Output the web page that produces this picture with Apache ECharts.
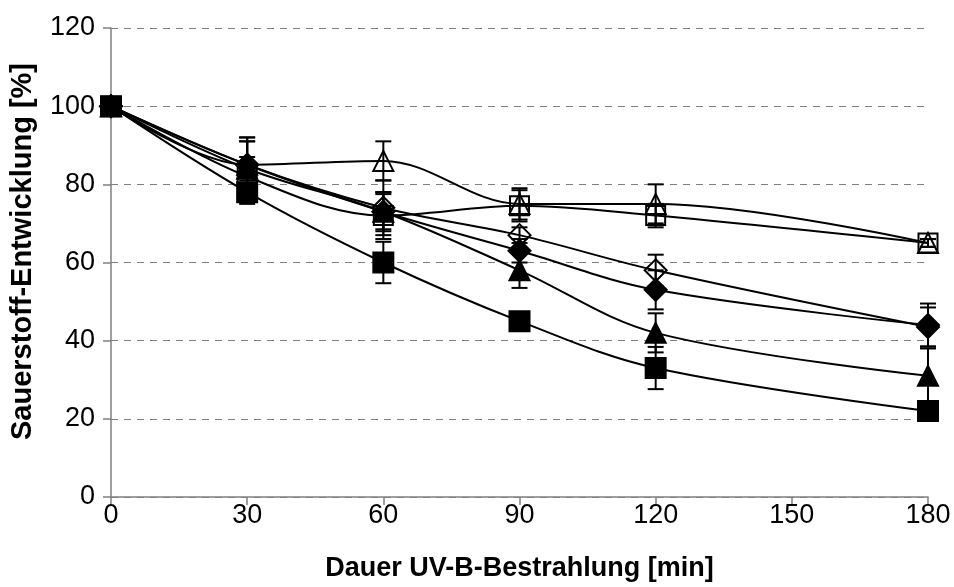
<!DOCTYPE html>
<html>
<head>
<meta charset="utf-8">
<script src="https://cdn.jsdelivr.net/npm/echarts@6/dist/echarts.min.js"></script>
<style>html,body{margin:0;padding:0;background:#fff}#c{width:954px;height:587px}</style>
</head>
<body>
<div id="c"></div>
<script>
var xValues = [0, 30, 60, 90, 120, 180];
var xTicks = [0, 30, 60, 90, 120, 150, 180];
var yTicks = [0, 20, 40, 60, 80, 100, 120];

var openTriangle = [100, 85, 86, 75, 75, 65];
var openTriangleErr = [0, 7, 5, 4, 5, 1];
var openSquare = [100, 82, 72, 74.5, 72, 65];
var openSquareErr = [0, 5, 6, 4, 3, 1];
var openDiamond = [100, 85, 74, 67, 58, 43.5];
var openDiamondErr = [0, 6, 7, 2, 4, 5];
var filledDiamond = [100, 85, 73, 63, 53, 44];
var filledDiamondErr = [0, 7, 5, 3, 5, 5.5];
var filledTriangle = [100, 84, 73, 58, 42, 31];
var filledTriangleErr = [0, 7, 4.5, 4.5, 5, 7];
var filledSquare = [100, 78, 60, 45, 33, 22];
var filledSquareErr = [0, 3, 5.3, 1, 5.4, 1];

var seriesDefs = [
  {name: 'offenes Quadrat', vals: openSquare, err: openSquareErr, symbol: 'rect', size: 19, open: true},
  {name: 'offenes Dreieck', vals: openTriangle, err: openTriangleErr, symbol: 'triangle', size: 20, open: true},
  {name: 'offene Raute', vals: openDiamond, err: openDiamondErr, symbol: 'diamond', size: 22, open: true},
  {name: 'Raute', vals: filledDiamond, err: filledDiamondErr, symbol: 'diamond', size: 22, open: false},
  {name: 'Dreieck', vals: filledTriangle, err: filledTriangleErr, symbol: 'triangle', size: 20, open: false},
  {name: 'Quadrat', vals: filledSquare, err: filledSquareErr, symbol: 'rect', size: 20, open: false}
];

var series = [];
seriesDefs.forEach(function (d) {
  var errData = [];
  d.vals.forEach(function (v, i) {
    if (d.err[i] > 0) errData.push([xValues[i], v - d.err[i], v + d.err[i]]);
  });
  series.push({
    type: 'custom',
    name: d.name + ' err',
    silent: true,
    z: 4,
    data: errData,
    encode: {x: 0, y: [1, 2]},
    renderItem: function (params, api) {
      var lo = api.coord([api.value(0), api.value(1)]);
      var hi = api.coord([api.value(0), api.value(2)]);
      var w = 8;
      var st = {stroke: '#000', lineWidth: 2};
      return {
        type: 'group',
        children: [
          {type: 'line', shape: {x1: lo[0], y1: lo[1], x2: hi[0], y2: hi[1]}, style: st},
          {type: 'line', shape: {x1: lo[0] - w, y1: lo[1], x2: lo[0] + w, y2: lo[1]}, style: st},
          {type: 'line', shape: {x1: hi[0] - w, y1: hi[1], x2: hi[0] + w, y2: hi[1]}, style: st}
        ]
      };
    }
  });
  series.push({
    type: 'line',
    name: d.name,
    data: d.vals.map(function (v, i) { return [xValues[i], v]; }),
    smooth: 0.35,
    symbol: d.symbol,
    symbolSize: d.size,
    showAllSymbol: true,
    z: 3,
    lineStyle: {color: '#000', width: 2},
    itemStyle: {color: d.open ? 'rgba(255,255,255,0)' : '#000', borderColor: '#000', borderWidth: 2, opacity: 1},
    emphasis: {disabled: true}
  });
});

var chart = echarts.init(document.getElementById('c'));
chart.setOption({
  animation: false,
  backgroundColor: '#fff',
  grid: {left: 110, right: 26, top: 28, bottom: 90, containLabel: false},
  xAxis: {
    type: 'value',
    min: xTicks[0], max: xTicks[xTicks.length - 1], interval: 30,
    name: 'Dauer UV-B-Bestrahlung [min]',
    nameLocation: 'middle',
    nameGap: 58,
    nameTextStyle: {fontFamily: 'Liberation Sans', fontWeight: 'bold', fontSize: 27, color: '#000'},
    axisLine: {lineStyle: {color: '#808080', width: 1.5}},
    axisTick: {show: true, inside: false, length: 8, lineStyle: {color: '#808080', width: 1.5}},
    axisLabel: {fontFamily: 'Liberation Sans', fontSize: 27, color: '#000', margin: 5,
      formatter: function (v) { return xTicks.indexOf(v) >= 0 ? String(v) : ''; }},
    splitLine: {show: false}
  },
  yAxis: {
    type: 'value',
    min: yTicks[0], max: yTicks[yTicks.length - 1], interval: 20,
    name: 'Sauerstoff-Entwicklung [%]',
    nameLocation: 'middle',
    nameGap: 74,
    nameTextStyle: {fontFamily: 'Liberation Sans', fontWeight: 'bold', fontSize: 29, color: '#000', padding: [0, 0, 0, 22]},
    axisLine: {show: true, lineStyle: {color: '#808080', width: 1.5}},
    axisTick: {show: true, inside: false, length: 8, lineStyle: {color: '#808080', width: 1.5}},
    axisLabel: {fontFamily: 'Liberation Sans', fontSize: 27, color: '#000', margin: 16,
      formatter: function (v) { return yTicks.indexOf(v) >= 0 ? String(v) : ''; }},
    splitLine: {show: true, lineStyle: {color: '#808080', width: 1, type: [7, 6]}}
  },
  series: series
});
</script>
</body>
</html>
